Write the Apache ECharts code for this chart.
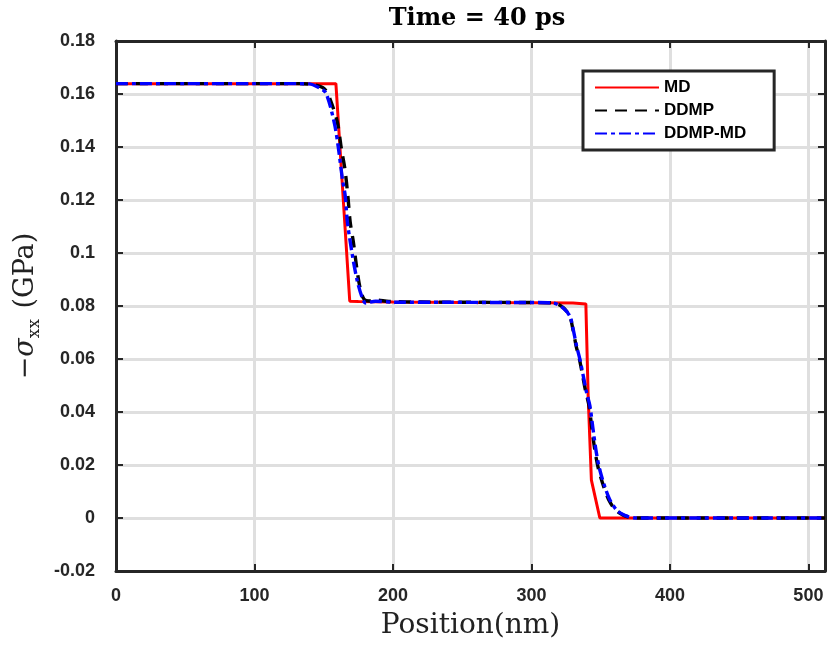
<!DOCTYPE html>
<html>
<head>
<meta charset="utf-8">
<script src="https://cdn.jsdelivr.net/npm/echarts@6/dist/echarts.min.js"></script>
<style>
  html, body { margin: 0; padding: 0; background: #fff; }
  #chart { width: 828px; height: 645px; }
</style>
</head>
<body>
<div id="chart"></div>
<script>
// ---- data ----
const seriesNames = ['MD', 'DDMP', 'DDMP-MD'];
const xTicks = [0, 100, 200, 300, 400, 500];
const yTicks = [-0.02, 0, 0.02, 0.04, 0.06, 0.08, 0.1, 0.12, 0.14, 0.16, 0.18];

const mdX = [0, 50, 100, 150, 158.8, 168.8, 175, 200, 250, 300, 330, 339.3, 341.0, 343.3, 349.4, 400, 450, 512];
const mdY = [0.1639, 0.1639, 0.1639, 0.1639, 0.1639, 0.0818, 0.0817, 0.0815, 0.0813, 0.0812, 0.0811, 0.0808, 0.0455, 0.0143, 0, 0, 0, 0];

const ddmpX = [0, 50, 100, 132.4, 143.2, 150.4, 154.7, 159.9, 162.8, 165.3, 167.4, 169.1, 171.4, 173.9, 176.3, 179.1, 182.7, 187.5, 197.1, 220, 260, 300, 315.8, 323.0, 327.6, 330.0, 332.3, 334.7, 337.0, 339.3, 341.6, 343.8, 346.2, 348.6, 352.2, 355.8, 360.6, 366.6, 375, 420, 470, 512];
const ddmpY = [0.1639, 0.1639, 0.1639, 0.1639, 0.1635, 0.1620, 0.1579, 0.1492, 0.1392, 0.1317, 0.1217, 0.1117, 0.1042, 0.0942, 0.0867, 0.0826, 0.0819, 0.0823, 0.0817, 0.0815, 0.0814, 0.0813, 0.0812, 0.0794, 0.0762, 0.0711, 0.0649, 0.0599, 0.0537, 0.0474, 0.0424, 0.0331, 0.0243, 0.0181, 0.0118, 0.0069, 0.0031, 0.0010, 0, 0, 0, 0];

const ddmpmdX = [0, 50, 100, 132.4, 139.6, 146.8, 151.6, 157.6, 160.4, 163.5, 165.5, 167.1, 170.7, 174.3, 177.9, 180.4, 187.5, 201.9, 240, 280, 305, 315.8, 323.0, 327.8, 330.2, 332.6, 335.0, 337.4, 339.8, 342.2, 344.6, 347.0, 349.4, 353.0, 356.6, 361.4, 367.4, 375.8, 420, 470, 512];
const ddmpmdY = [0.1639, 0.1639, 0.1639, 0.1639, 0.1638, 0.1623, 0.1604, 0.1492, 0.1404, 0.1279, 0.1217, 0.1117, 0.0992, 0.0893, 0.0830, 0.0811, 0.0818, 0.0814, 0.0814, 0.0813, 0.0813, 0.0811, 0.0792, 0.0761, 0.0711, 0.0649, 0.0599, 0.0537, 0.0474, 0.0424, 0.0331, 0.0243, 0.0181, 0.0118, 0.0069, 0.0031, 0.0010, 0, 0, 0, 0];

const zip = (xs, ys) => xs.map((x, i) => [x, ys[i]]);

const axisColor = '#262626';
const gridColor = '#dfdfdf';
const tickFont = { fontFamily: 'Liberation Sans', fontWeight: 'bold', fontSize: 18, color: axisColor };

const chart = echarts.init(document.getElementById('chart'), null, { renderer: 'canvas' });

const option = {
  backgroundColor: '#ffffff',
  animation: false,
  title: {
    text: 'Time = 40 ps',
    left: 472, top: 2, textAlign: 'center',
    textStyle: { fontFamily: 'DejaVu Serif', fontWeight: 'bold', fontSize: 24, color: '#000' }
  },
  grid: { left: 116, top: 41, width: 711, height: 534, containLabel: false },
  legend: {
    orient: 'vertical',
    left: 583, top: 71,
    padding: [8, 28, 8, 11],
    itemWidth: 64, itemHeight: 17, itemGap: 6,
    backgroundColor: '#ffffff',
    borderColor: axisColor, borderWidth: 3, borderRadius: 0,
    itemStyle: { opacity: 0 },
    textStyle: { fontFamily: 'Liberation Sans', fontWeight: 'bold', fontSize: 17, color: '#000' },
    data: seriesNames
  },
  xAxis: [
    {
      type: 'value', position: 'bottom', min: 0, max: 512, interval: 100,
      name: 'Position(nm)', nameLocation: 'middle', nameGap: 41,
      nameTextStyle: { fontFamily: 'DejaVu Serif', fontSize: 28, color: '#222' },
      axisLine: { show: true, onZero: false, lineStyle: { color: axisColor, width: 3 } },
      axisTick: { show: true, inside: true, length: 7, lineStyle: { color: axisColor, width: 2 } },
      axisLabel: Object.assign({ margin: 16, formatter: v => (xTicks.includes(v) ? String(v) : '') }, tickFont),
      splitLine: { show: true, lineStyle: { color: gridColor, width: 3 } }
    },
    {
      type: 'value', position: 'top', min: 0, max: 512, interval: 100,
      axisLine: { show: true, onZero: false, lineStyle: { color: axisColor, width: 3 } },
      axisTick: { show: true, inside: true, length: 7, lineStyle: { color: axisColor, width: 2 } },
      axisLabel: { show: false },
      splitLine: { show: false }
    }
  ],
  yAxis: [
    {
      type: 'value', position: 'left', min: -0.02, max: 0.18, interval: 0.02,
      name: '{t|−}{s|σ}{sub|xx}{t| (GPa)}', nameLocation: 'middle', nameGap: 70, nameRotate: 90,
      nameTextStyle: {
        color: '#222',
        rich: {
          t: { fontFamily: 'DejaVu Serif', fontSize: 27, color: '#222', lineHeight: 34, verticalAlign: 'middle' },
          s: { fontFamily: 'DejaVu Serif', fontStyle: 'italic', fontSize: 27, color: '#222', lineHeight: 34, verticalAlign: 'middle' },
          sub: { fontFamily: 'DejaVu Serif', fontSize: 17, color: '#222', lineHeight: 34, verticalAlign: 'bottom', padding: [0, 2, 0, 0] }
        }
      },
      axisLine: { show: true, onZero: false, lineStyle: { color: axisColor, width: 3 } },
      axisTick: { show: true, inside: true, length: 7, lineStyle: { color: axisColor, width: 2 } },
      axisLabel: Object.assign({ margin: 21, formatter: v => String(+v.toFixed(2)) }, tickFont),
      splitLine: { show: true, lineStyle: { color: gridColor, width: 3 } }
    },
    {
      type: 'value', position: 'right', min: -0.02, max: 0.18, interval: 0.02,
      axisLine: { show: true, onZero: false, lineStyle: { color: axisColor, width: 3 } },
      axisTick: { show: true, inside: true, length: 7, lineStyle: { color: axisColor, width: 2 } },
      axisLabel: { show: false },
      splitLine: { show: false }
    }
  ],
  series: [
    {
      name: 'MD', type: 'line', xAxisIndex: 0, yAxisIndex: 0,
      data: zip(mdX, mdY), symbol: 'none', smooth: false,
      lineStyle: { color: '#ff0000', width: 3, type: 'solid' },
      itemStyle: { color: '#ff0000' }, z: 3
    },
    {
      name: 'DDMP', type: 'line', xAxisIndex: 0, yAxisIndex: 0,
      data: zip(ddmpX, ddmpY), symbol: 'none', smooth: 0.3,
      lineStyle: { color: '#000000', width: 3.4, type: [12, 8] },
      itemStyle: { color: '#000000' }, z: 4
    },
    {
      name: 'DDMP-MD', type: 'line', xAxisIndex: 0, yAxisIndex: 0,
      data: zip(ddmpmdX, ddmpmdY), symbol: 'none', smooth: 0.3,
      lineStyle: { color: '#0000ff', width: 3.4, type: [12, 4, 4, 4] },
      itemStyle: { color: '#0000ff' }, z: 5
    }
  ]
};
chart.setOption(option);
</script>
</body>
</html>
